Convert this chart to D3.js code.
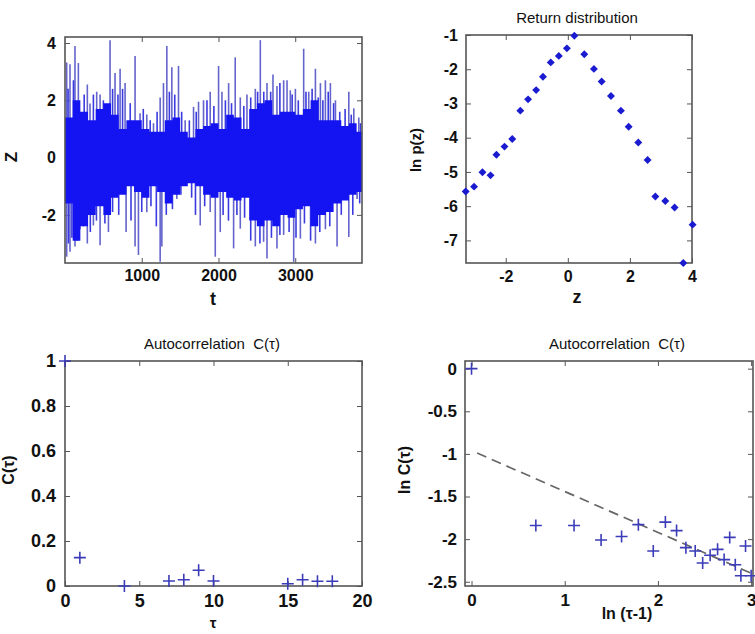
<!DOCTYPE html>
<meta charset="utf-8">
<style>
body { margin: 0; background: #fff; }
text { font-family: "Liberation Sans", Arial, sans-serif; fill: #111; white-space: pre; }
.tick text { font-weight: bold; fill: #111; }
.frame { fill: none; stroke: #555; stroke-width: 1.6px; }
.domain { display: none; }
.tick line { stroke: #555; }
</style>
<svg width="755" height="634"></svg>
<script src="https://d3js.org/d3.v7.min.js"></script>
<script>
// panel 1: return series z(t), dense core band + visible spikes
var coreT  = [0,100,200,300,400,500,600,700,800,900,1000,1100,1200,1300,1400,1500,1600,1700,1800,1900,2000,2100,2200,2300,2400,2500,2600,2700,2800,2900,3000,3100,3200,3300,3400,3500,3600,3700,3800,3870];
var coreHi = [1.4,2.0,1.6,1.3,1.7,1.9,1.5,1.0,1.3,1.3,1.0,0.9,0.9,1.3,1.4,0.9,0.7,1.0,1.1,1.2,1.0,1.5,1.4,1.0,1.7,1.9,2.0,1.5,1.6,1.6,1.5,1.7,2.0,1.3,1.3,1.3,1.1,1.2,0.9,0.9];
var coreLo = [-1.6,-2.9,-2.4,-2.0,-1.7,-2.0,-1.4,-1.3,-1.0,-1.2,-1.4,-1.0,-1.2,-1.6,-1.3,-1.0,-0.9,-1.0,-1.3,-1.4,-1.2,-1.4,-1.5,-1.4,-2.2,-2.4,-2.2,-2.4,-2.0,-2.1,-1.8,-1.7,-2.4,-2.0,-1.9,-1.6,-1.5,-1.3,-1.2,-1.0];
var upT = [22,65,130,174,291,326,413,457,587,652,718,783,913,978,1066,1153,1240,1283,1327,1392,1479,1566,1675,1740,1805,1892,2001,2045,2132,2218,2284,2371,2480,2545,2632,2710,2762,2849,2893,2936,3002,3110,3176,3263,3328,3393,3458,3524,3611,3698,3763,3828];
var upZ = [3.32,3.26,3.9,3.3,2.55,1.89,2.3,2.2,4.1,2.95,3.1,2.6,3.55,1.55,1.5,1.2,2.1,2.6,3.9,3.15,3.2,1.3,1.77,1.95,2.0,2.3,3.2,2.3,2.6,3.5,2.1,2.2,2.4,4.1,2.6,2.9,2.5,2.7,2.7,2.35,2.4,3.8,2.3,3.1,2.6,2.7,2.6,2.0,0.85,2.3,1.72,1.4];
var upT2 = [40,110,250,370,500,620,690,750,850,1020,1110,1200,1360,1430,1520,1620,1710,1850,1940,2090,2170,2330,2420,2510,2590,2680,2800,2960,3040,3140,3220,3300,3360,3430,3500,3580,3650,3730,3850];
var upZ2 = [2.4,2.7,2.2,2.2,2.0,2.4,2.2,2.4,1.9,1.7,1.3,1.6,2.3,2.2,1.6,1.3,1.6,2.0,1.8,2.0,1.9,1.8,2.1,2.3,2.3,2.3,2.6,2.2,2.0,2.3,2.4,2.1,2.0,2.3,1.9,1.6,1.7,1.5,1.2];
var dnT = [22,65,130,196,291,370,457,566,796,913,957,1066,1240,1262,1457,1566,1762,1892,1958,2023,2197,2284,2480,2588,2632,2762,2849,2980,3067,3263,3393,3545,3698,3806];
var dnZ = [-3.46,-3.29,-3.1,-2.5,-3.0,-2.37,-3.06,-2.6,-2.6,-3.1,-3.4,-1.91,-3.64,-3.1,-1.45,-0.99,-2.37,-1.9,-3.46,-2.6,-3.17,-2.48,-3.1,-2.94,-3.52,-3.17,-2.7,-3.64,-2.83,-3.0,-2.5,-3.1,-2.77,-1.45];
var dnT2 = [45,90,160,240,330,410,520,620,700,860,1000,1120,1190,1320,1400,1510,1650,1700,1820,2060,2130,2240,2340,2420,2540,2690,2800,2920,3010,3120,3200,3320,3450,3600,3750,3840];
var dnZ2 = [-3.0,-2.8,-2.9,-2.4,-2.6,-2.2,-2.3,-1.9,-2.0,-2.2,-1.9,-1.7,-2.4,-2.0,-1.8,-1.3,-1.4,-2.0,-1.7,-2.0,-2.2,-2.0,-2.1,-2.9,-3.0,-2.8,-2.7,-2.6,-2.8,-2.3,-2.9,-2.6,-2.4,-2.0,-2.0,-1.6];

// panel 2: return distribution
var distZ   = [-3.29,-3.02,-2.75,-2.49,-2.30,-2.04,-1.79,-1.53,-1.28,-1.02,-0.80,-0.55,-0.29,-0.03,0.21,0.53,0.84,1.09,1.39,1.71,1.96,2.27,2.57,2.82,3.14,3.44,3.72,4.02];
var distLnP = [-5.57,-5.43,-5.01,-5.10,-4.50,-4.26,-4.04,-3.21,-2.88,-2.61,-2.22,-1.80,-1.61,-1.39,-1.02,-1.56,-1.99,-2.36,-2.78,-3.21,-3.68,-4.14,-4.65,-5.72,-5.85,-6.04,-7.66,-6.54];

// panel 3: autocorrelation
var acTau = [0,1,4,7,8,9,10,15,16,17,18];
var acC   = [1,0.126,0.0,0.022,0.028,0.07,0.022,0.01,0.028,0.021,0.021];

// panel 4: log autocorrelation vs ln(tau-1)
var lnTau = [0,0.69,1.10,1.39,1.61,1.79,1.95,2.08,2.20,2.30,2.40,2.48,2.56,2.64,2.71,2.77,2.83,2.89,2.94,3.0];
var lnC   = [0,-1.84,-1.84,-2.01,-1.97,-1.83,-2.14,-1.80,-1.90,-2.10,-2.14,-2.28,-2.19,-2.12,-2.24,-1.98,-2.30,-2.43,-2.08,-2.43];
var fitX = [0.06, 3.0];
var fitY = [-0.99, -2.40];

var svg = d3.select("svg");
var fmt = function(d) { return String(d); };

function panel(box, xDom, yDom, xTicks, yTicks, fs) {
  var x = d3.scaleLinear().domain(xDom).range([box.l, box.r]);
  var y = d3.scaleLinear().domain(yDom).range([box.b, box.t]);
  var g = svg.append("g");
  g.append("g").attr("transform", "translate(0," + box.b + ")")
    .call(d3.axisBottom(x).tickValues(xTicks).tickSize(-5).tickPadding(box.xp).tickFormat(fmt))
    .selectAll("text").style("font-size", fs + "px");
  g.append("g").attr("transform", "translate(0," + box.t + ")")
    .call(d3.axisTop(x).tickValues(xTicks).tickSize(-5).tickFormat(""));
  g.append("g").attr("transform", "translate(" + box.l + ",0)")
    .call(d3.axisLeft(y).tickValues(yTicks).tickSize(-5).tickPadding(box.yp).tickFormat(fmt))
    .selectAll("text").style("font-size", fs + "px");
  g.append("g").attr("transform", "translate(" + box.r + ",0)")
    .call(d3.axisRight(y).tickValues(yTicks).tickSize(-5).tickFormat(""));
  g.selectAll(".tick text").style("font-family", "'Liberation Sans', Arial, sans-serif");
  var data = g.append("g");
  g.append("rect").attr("class", "frame")
    .attr("x", box.l).attr("y", box.t)
    .attr("width", box.r - box.l).attr("height", box.b - box.t);
  return {g: g, data: data, x: x, y: y};
}

function label(txt, x, y, size, bold, rot) {
  svg.append("text").attr("text-anchor", "middle")
    .attr("transform", "translate(" + x + "," + y + ")" + (rot ? " rotate(-90)" : ""))
    .style("font-size", size + "px").style("font-weight", bold ? "bold" : "normal")
    .text(txt);
}

function plus(sel, px, py, s, color) {
  sel.append("path")
    .attr("d", "M" + (px - s) + "," + py + "H" + (px + s) + "M" + px + "," + (py - s) + "V" + (py + s))
    .attr("stroke", color).attr("stroke-width", 1.6).attr("fill", "none");
}

function spikes(p, ts, zs, color) {
  p.data.append("g").selectAll("line").data(ts).enter().append("line")
    .attr("x1", function(d) { return p.x(d); }).attr("x2", function(d) { return p.x(d); })
    .attr("y1", p.y(0)).attr("y2", function(d, i) { return p.y(zs[i]); })
    .attr("stroke", color).attr("stroke-width", 1.6);
}

// ---- panel 1
var p1 = panel({l: 65, r: 362, t: 37, b: 263, xp: 7, yp: 9}, [0, 3870], [-3.68, 4.21], [1000, 2000, 3000], [-2, 0, 2, 4], 16);
spikes(p1, upT, upZ, "#6464cc");
spikes(p1, dnT, dnZ, "#6464cc");
spikes(p1, upT2, upZ2, "#3a3ae0");
spikes(p1, dnT2, dnZ2, "#3a3ae0");
p1.data.append("path").datum(coreT)
  .attr("d", d3.area().curve(d3.curveStepAfter)
    .x(function(d) { return p1.x(d); })
    .y0(function(d, i) { return p1.y(coreLo[i]); })
    .y1(function(d, i) { return p1.y(coreHi[i]); }))
  .attr("fill", "#1414f2");
label("Z", 17, 157, 17, true, true);
label("t", 213, 305, 18, true, false);

// ---- panel 2
var p2 = panel({l: 466, r: 692, t: 35, b: 263, xp: 8, yp: 8}, [-3.28, 4.0], [-7.66, -1], [-2, 0, 2, 4], [-7, -6, -5, -4, -3, -2, -1], 16);
p2.g.selectAll("path.dia").data(distZ).enter().append("path")
  .attr("d", d3.symbol(d3.symbolDiamond2, 40))
  .attr("transform", function(d, i) { return "translate(" + p2.x(d) + "," + p2.y(distLnP[i]) + ")"; })
  .attr("fill", "#1a1ad0");
label("Return distribution", 577, 23, 15, false, false);
label("ln p(z)", 421, 150, 15, true, true);
label("z", 577, 303, 18, true, false);

// ---- panel 3
var p3 = panel({l: 65, r: 362, t: 361, b: 586, xp: 8, yp: 9}, [0, 20], [0, 1], [0, 5, 10, 15, 20], [0, 0.2, 0.4, 0.6, 0.8, 1], 18);
acTau.forEach(function(d, i) { plus(p3.g, p3.x(d), p3.y(acC[i]), 6, "#3c3cb8"); });
label("Autocorrelation  C(\u03c4)", 212, 349, 15, false, false);
label("C(\u03c4)", 14, 470, 16, true, true);
label("\u03c4", 213, 628, 15, true, false);

// ---- panel 4
var p4 = panel({l: 465, r: 753, t: 361, b: 586, xp: 8, yp: 8}, [-0.07, 3.02], [-2.55, 0.09], [0, 1, 2, 3], [-2.5, -2, -1.5, -1, -0.5, 0], 17);
p4.data.append("path").datum(fitX)
  .attr("d", d3.line().x(function(d) { return p4.x(d); }).y(function(d, i) { return p4.y(fitY[i]); }))
  .attr("stroke", "#666").attr("stroke-width", 1.7).attr("stroke-dasharray", "10,6").attr("fill", "none");
lnTau.forEach(function(d, i) { plus(p4.g, p4.x(d), p4.y(lnC[i]), 6, "#3c3cb8"); });
label("Autocorrelation  C(\u03c4)", 617, 349, 15, false, false);
label("ln C(\u03c4)", 410, 470, 16, true, true);
label("ln (\u03c4-1)", 627, 619, 16, true, false);
</script>
